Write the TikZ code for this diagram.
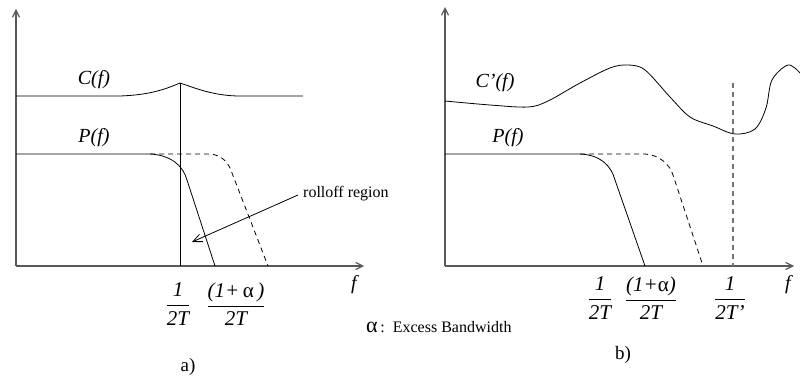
\documentclass[tikz,border=0pt]{standalone}
\usepackage{fontspec}
\setmainfont{Liberation Serif}
\usetikzlibrary{arrows.meta}
\tikzset{
  curve/.style={black, line width=0.8pt},
  axis/.style={draw=black!65, line width=1.2pt, -{Straight Barb[length=7pt,width=7pt]}},
  dashcurve/.style={black, line width=0.8pt, dash pattern=on 5pt off 4pt},
  graydash/.style={black!55, line width=1.1pt, dash pattern=on 5pt off 4pt},
  lbl/.style={font=\fontsize{20}{22}\selectfont\itshape, inner sep=0pt},
  frac/.style={font=\fontsize{21}{23}\selectfont\itshape, inner sep=0pt},
  captext/.style={font=\fontsize{19}{21}\selectfont, inner sep=0pt},
  note/.style={font=\fontsize{16}{18}\selectfont, inner sep=0pt}
}
\newcommand{\myfrac}[2]{$\displaystyle\frac{\textit{#1}}{\textit{#2}}$}
\begin{document}
\begin{tikzpicture}[x=1pt,y=-1pt]
\useasboundingbox (0,0) rectangle (800,382);
% ---------- left plot ----------
\coordinate (LO) at (16,266);
\coordinate (LY) at (16,9);
\coordinate (LX) at (364,266);
\draw[axis] (LO) -- (LY);
\draw[axis] (LO) -- (LX);
% C(f)
\draw[curve] (16,96) -- (120,96) .. controls (150,95) and (166,89) .. (180,83)
  .. controls (195,88) and (214,96) .. (240,96) -- (303,96);
\draw[curve] (180,83) -- (180,266);
% P(f)
\draw[curve] (16,154) -- (150,154) .. controls (170,155) and (183,165) .. (187,180) -- (215,266);
\draw[dashcurve] (150,154) -- (210,154) .. controls (222,155) and (229,163) .. (232,173) -- (268,266);
% rolloff arrow
\coordinate (rs) at (298,195);
\coordinate (rt) at (192,242);
\draw[curve, -{Straight Barb[length=9pt,width=8pt]}] (rs) -- (rt);
\node[note, anchor=west] (roll) at (303,194) {rolloff region};
\node[lbl] (Cf) at (94,80) {C(f)};
\node[lbl] (Pf) at (94,138) {P(f)};
\node[lbl] (fL) at (354,285) {f};
\node[frac] (fr1) at (178,304) {\myfrac{1}{2T}};
\node[frac] (fr2) at (236,304) {\myfrac{(1+\,\textup{α}\,)}{2T}};
\node[captext] (a) at (188,367) {a)};
% alpha note
\node[note, anchor=west] (al) at (366,327) {{\fontsize{22}{23}\selectfont α}\,:\ \ Excess Bandwidth};
% ---------- right plot ----------
\coordinate (RO) at (445,266);
\coordinate (RY) at (445,7);
\coordinate (RX) at (794,266);
\draw[axis] (RO) -- (RY);
\draw[axis] (RO) -- (RX);
% C'(f)
\draw[curve] plot[smooth, tension=0.55] coordinates {
  (445,101) (490,105) (528,107) (548,101) (580,83) (610,68) (628,65) (645,70) (670,97)
  (690,117) (713,126) (735,134) (755,129) (766,108) (772,80) (788,65) (800,73)};
\draw[graydash] (733,83) -- (733,266);
% P(f)
\draw[curve] (445,154) -- (580,154) .. controls (600,155) and (611,165) .. (615,180) -- (645,266);
\draw[dashcurve] (580,154) -- (645,154) .. controls (660,155) and (670,165) .. (673,175) -- (703,266);
\node[lbl] (Cpf) at (495,83) {C’(f)};
\node[lbl] (Pf2) at (508,138) {P(f)};
\node[lbl] (fR) at (788,285) {f};
\node[frac] (fr3) at (600,298) {\myfrac{1}{2T}};
\node[frac] (fr4) at (651,298) {\myfrac{(1+\textup{α})}{2T}};
\node[frac] (fr5) at (730,298) {\myfrac{1}{2T’}};
\node[captext] (b) at (623,355) {b)};
\end{tikzpicture}
\end{document}
